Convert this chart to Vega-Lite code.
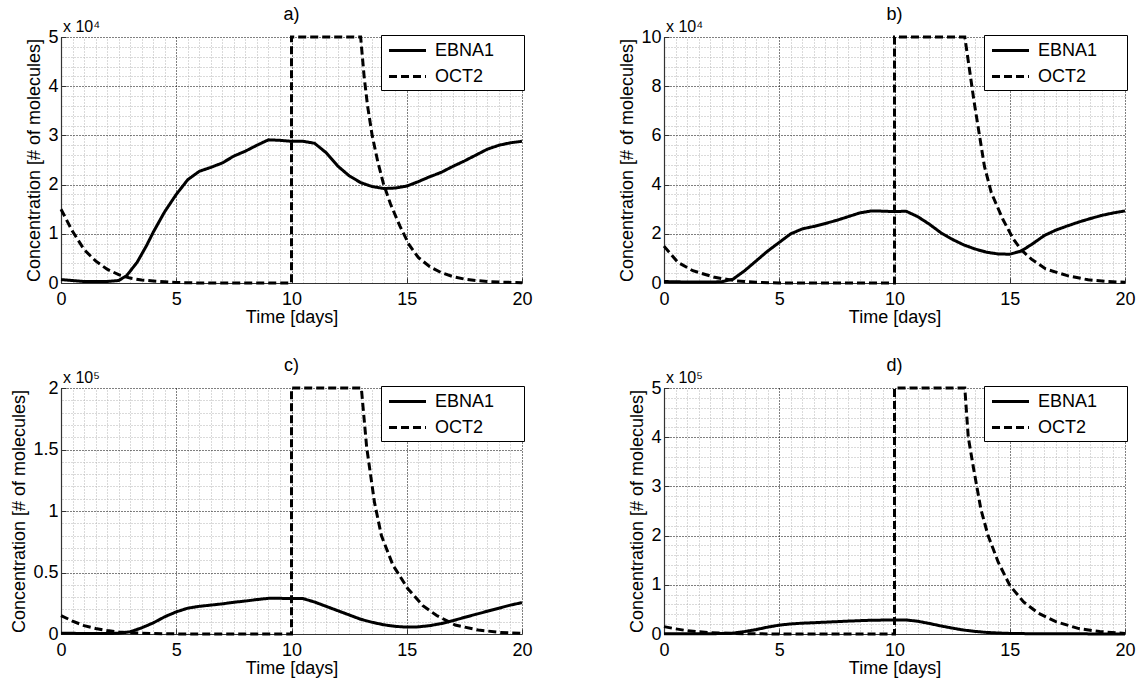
{
  "$schema": "https://vega.github.io/schema/vega-lite/v6.json",
  "background": "white",
  "padding": {"left": 10, "top": 6, "right": 5, "bottom": 5},
  "config": {
    "font": "Liberation Sans",
    "view": {"stroke": null},
    "axis": {"labelFontSize": 18, "titleFontSize": 18, "titleFontWeight": "normal", "labelColor": "black", "titleColor": "black", "domainColor": "#333333", "domainWidth": 1.2, "tickColor": "#333333", "tickSize": -5, "gridWidth": 1, "labelFlush": false, "labelOverlap": false},
    "axisX": {"labelPadding": 12, "titlePadding": 0},
    "axisY": {"labelPadding": 8, "titlePadding": 4},
    "legend": {"labelFontSize": 18, "labelColor": "black", "symbolType": "M-1.85,0H1.85", "symbolStrokeWidth": 3, "symbolSize": 400, "symbolStrokeColor": "black", "symbolFillColor": "transparent", "symbolOffset": 11, "strokeColor": "black", "fillColor": "white", "padding": 4, "offset": -2, "labelOffset": 16, "rowPadding": 5, "cornerRadius": 0, "labelLimit": 0},
    "title": {"fontSize": 18, "fontWeight": "normal", "color": "black", "offset": -5}
  },
  "datasets": {
    "d": [
      {"p":"a","s":"EBNA1","t":0,"v":700},{"p":"a","s":"EBNA1","t":0.5,"v":500},{"p":"a","s":"EBNA1","t":1,"v":300},{"p":"a","s":"EBNA1","t":1.5,"v":300},{"p":"a","s":"EBNA1","t":2,"v":300},{"p":"a","s":"EBNA1","t":2.5,"v":500},{"p":"a","s":"EBNA1","t":2.85,"v":1500},{"p":"a","s":"EBNA1","t":3.3,"v":4200},{"p":"a","s":"EBNA1","t":3.7,"v":7500},{"p":"a","s":"EBNA1","t":4,"v":10300},{"p":"a","s":"EBNA1","t":4.5,"v":14500},{"p":"a","s":"EBNA1","t":5,"v":18000},{"p":"a","s":"EBNA1","t":5.5,"v":21000},{"p":"a","s":"EBNA1","t":6,"v":22700},{"p":"a","s":"EBNA1","t":6.5,"v":23500},{"p":"a","s":"EBNA1","t":7,"v":24400},{"p":"a","s":"EBNA1","t":7.5,"v":25800},{"p":"a","s":"EBNA1","t":8,"v":26800},{"p":"a","s":"EBNA1","t":8.5,"v":28000},{"p":"a","s":"EBNA1","t":9,"v":29100},{"p":"a","s":"EBNA1","t":9.5,"v":29000},{"p":"a","s":"EBNA1","t":10,"v":28800},{"p":"a","s":"EBNA1","t":10.5,"v":28800},{"p":"a","s":"EBNA1","t":11,"v":28400},{"p":"a","s":"EBNA1","t":11.5,"v":26500},{"p":"a","s":"EBNA1","t":12,"v":23800},{"p":"a","s":"EBNA1","t":12.5,"v":21800},{"p":"a","s":"EBNA1","t":13,"v":20400},{"p":"a","s":"EBNA1","t":13.5,"v":19600},{"p":"a","s":"EBNA1","t":14,"v":19200},{"p":"a","s":"EBNA1","t":14.5,"v":19300},{"p":"a","s":"EBNA1","t":15,"v":19700},{"p":"a","s":"EBNA1","t":15.5,"v":20600},{"p":"a","s":"EBNA1","t":16,"v":21600},{"p":"a","s":"EBNA1","t":16.5,"v":22500},{"p":"a","s":"EBNA1","t":17,"v":23700},{"p":"a","s":"EBNA1","t":17.5,"v":24800},{"p":"a","s":"EBNA1","t":18,"v":26000},{"p":"a","s":"EBNA1","t":18.5,"v":27200},{"p":"a","s":"EBNA1","t":19,"v":28000},{"p":"a","s":"EBNA1","t":19.5,"v":28500},{"p":"a","s":"EBNA1","t":20,"v":28800},
      {"p":"a","s":"OCT2","t":0,"v":15000},{"p":"a","s":"OCT2","t":0.5,"v":10500},{"p":"a","s":"OCT2","t":1,"v":6800},{"p":"a","s":"OCT2","t":1.5,"v":4500},{"p":"a","s":"OCT2","t":2,"v":2800},{"p":"a","s":"OCT2","t":2.5,"v":1700},{"p":"a","s":"OCT2","t":3,"v":1000},{"p":"a","s":"OCT2","t":3.5,"v":600},{"p":"a","s":"OCT2","t":4,"v":400},{"p":"a","s":"OCT2","t":5,"v":100},{"p":"a","s":"OCT2","t":6,"v":0},{"p":"a","s":"OCT2","t":10,"v":0},{"p":"a","s":"OCT2","t":10,"v":50000},{"p":"a","s":"OCT2","t":13,"v":50000},{"p":"a","s":"OCT2","t":13.15,"v":42000},{"p":"a","s":"OCT2","t":13.3,"v":36000},{"p":"a","s":"OCT2","t":13.5,"v":30000},{"p":"a","s":"OCT2","t":13.75,"v":24500},{"p":"a","s":"OCT2","t":14,"v":20000},{"p":"a","s":"OCT2","t":14.3,"v":16000},{"p":"a","s":"OCT2","t":14.7,"v":11600},{"p":"a","s":"OCT2","t":15.1,"v":7800},{"p":"a","s":"OCT2","t":15.5,"v":5200},{"p":"a","s":"OCT2","t":16,"v":3300},{"p":"a","s":"OCT2","t":16.5,"v":2100},{"p":"a","s":"OCT2","t":17,"v":1300},{"p":"a","s":"OCT2","t":17.5,"v":800},{"p":"a","s":"OCT2","t":18,"v":500},{"p":"a","s":"OCT2","t":18.5,"v":300},{"p":"a","s":"OCT2","t":19,"v":200},{"p":"a","s":"OCT2","t":20,"v":50},
      {"p":"b","s":"EBNA1","t":0,"v":600},{"p":"b","s":"EBNA1","t":1,"v":400},{"p":"b","s":"EBNA1","t":2,"v":400},{"p":"b","s":"EBNA1","t":2.5,"v":500},{"p":"b","s":"EBNA1","t":3,"v":1600},{"p":"b","s":"EBNA1","t":3.5,"v":5000},{"p":"b","s":"EBNA1","t":4,"v":9000},{"p":"b","s":"EBNA1","t":4.5,"v":13000},{"p":"b","s":"EBNA1","t":5,"v":16500},{"p":"b","s":"EBNA1","t":5.5,"v":20000},{"p":"b","s":"EBNA1","t":6,"v":22000},{"p":"b","s":"EBNA1","t":6.5,"v":23000},{"p":"b","s":"EBNA1","t":7,"v":24200},{"p":"b","s":"EBNA1","t":7.5,"v":25500},{"p":"b","s":"EBNA1","t":8,"v":27000},{"p":"b","s":"EBNA1","t":8.5,"v":28500},{"p":"b","s":"EBNA1","t":9,"v":29300},{"p":"b","s":"EBNA1","t":9.5,"v":29200},{"p":"b","s":"EBNA1","t":10,"v":29000},{"p":"b","s":"EBNA1","t":10.5,"v":29200},{"p":"b","s":"EBNA1","t":11,"v":27000},{"p":"b","s":"EBNA1","t":11.5,"v":24000},{"p":"b","s":"EBNA1","t":12,"v":20500},{"p":"b","s":"EBNA1","t":12.5,"v":17800},{"p":"b","s":"EBNA1","t":13,"v":15500},{"p":"b","s":"EBNA1","t":13.5,"v":13800},{"p":"b","s":"EBNA1","t":14,"v":12500},{"p":"b","s":"EBNA1","t":14.5,"v":11800},{"p":"b","s":"EBNA1","t":15,"v":11700},{"p":"b","s":"EBNA1","t":15.5,"v":13000},{"p":"b","s":"EBNA1","t":16,"v":16000},{"p":"b","s":"EBNA1","t":16.5,"v":19300},{"p":"b","s":"EBNA1","t":17,"v":21500},{"p":"b","s":"EBNA1","t":17.5,"v":23200},{"p":"b","s":"EBNA1","t":18,"v":24800},{"p":"b","s":"EBNA1","t":18.5,"v":26200},{"p":"b","s":"EBNA1","t":19,"v":27500},{"p":"b","s":"EBNA1","t":19.5,"v":28500},{"p":"b","s":"EBNA1","t":20,"v":29300},
      {"p":"b","s":"OCT2","t":0,"v":15000},{"p":"b","s":"OCT2","t":0.6,"v":8400},{"p":"b","s":"OCT2","t":1.25,"v":5000},{"p":"b","s":"OCT2","t":2.2,"v":2300},{"p":"b","s":"OCT2","t":3.1,"v":900},{"p":"b","s":"OCT2","t":4,"v":300},{"p":"b","s":"OCT2","t":5,"v":0},{"p":"b","s":"OCT2","t":10,"v":0},{"p":"b","s":"OCT2","t":10,"v":100000},{"p":"b","s":"OCT2","t":13.05,"v":100000},{"p":"b","s":"OCT2","t":13.25,"v":87000},{"p":"b","s":"OCT2","t":13.44,"v":74500},{"p":"b","s":"OCT2","t":13.67,"v":61000},{"p":"b","s":"OCT2","t":13.9,"v":47500},{"p":"b","s":"OCT2","t":14.2,"v":36700},{"p":"b","s":"OCT2","t":14.7,"v":25900},{"p":"b","s":"OCT2","t":15.16,"v":17800},{"p":"b","s":"OCT2","t":15.5,"v":13500},{"p":"b","s":"OCT2","t":15.94,"v":9700},{"p":"b","s":"OCT2","t":16.56,"v":5700},{"p":"b","s":"OCT2","t":17.5,"v":3000},{"p":"b","s":"OCT2","t":18.4,"v":1300},{"p":"b","s":"OCT2","t":19.2,"v":600},{"p":"b","s":"OCT2","t":20,"v":300},
      {"p":"c","s":"EBNA1","t":0,"v":700},{"p":"c","s":"EBNA1","t":1,"v":400},{"p":"c","s":"EBNA1","t":2,"v":400},{"p":"c","s":"EBNA1","t":2.5,"v":600},{"p":"c","s":"EBNA1","t":3,"v":1800},{"p":"c","s":"EBNA1","t":3.5,"v":5000},{"p":"c","s":"EBNA1","t":4,"v":9000},{"p":"c","s":"EBNA1","t":4.5,"v":14000},{"p":"c","s":"EBNA1","t":5,"v":18000},{"p":"c","s":"EBNA1","t":5.5,"v":21000},{"p":"c","s":"EBNA1","t":6,"v":22500},{"p":"c","s":"EBNA1","t":6.5,"v":23500},{"p":"c","s":"EBNA1","t":7,"v":24500},{"p":"c","s":"EBNA1","t":7.5,"v":25800},{"p":"c","s":"EBNA1","t":8,"v":26800},{"p":"c","s":"EBNA1","t":8.5,"v":28000},{"p":"c","s":"EBNA1","t":9,"v":29000},{"p":"c","s":"EBNA1","t":9.5,"v":29000},{"p":"c","s":"EBNA1","t":10,"v":28800},{"p":"c","s":"EBNA1","t":10.5,"v":28800},{"p":"c","s":"EBNA1","t":11,"v":26000},{"p":"c","s":"EBNA1","t":11.5,"v":22500},{"p":"c","s":"EBNA1","t":12,"v":19000},{"p":"c","s":"EBNA1","t":12.5,"v":15500},{"p":"c","s":"EBNA1","t":13,"v":12000},{"p":"c","s":"EBNA1","t":13.5,"v":9500},{"p":"c","s":"EBNA1","t":14,"v":7500},{"p":"c","s":"EBNA1","t":14.5,"v":6200},{"p":"c","s":"EBNA1","t":15,"v":5600},{"p":"c","s":"EBNA1","t":15.5,"v":5800},{"p":"c","s":"EBNA1","t":16,"v":6800},{"p":"c","s":"EBNA1","t":16.5,"v":8500},{"p":"c","s":"EBNA1","t":17,"v":10800},{"p":"c","s":"EBNA1","t":17.5,"v":13500},{"p":"c","s":"EBNA1","t":18,"v":16000},{"p":"c","s":"EBNA1","t":18.5,"v":18500},{"p":"c","s":"EBNA1","t":19,"v":21000},{"p":"c","s":"EBNA1","t":19.5,"v":23500},{"p":"c","s":"EBNA1","t":20,"v":25500},
      {"p":"c","s":"OCT2","t":0,"v":15000},{"p":"c","s":"OCT2","t":0.5,"v":10500},{"p":"c","s":"OCT2","t":1,"v":6800},{"p":"c","s":"OCT2","t":1.5,"v":4500},{"p":"c","s":"OCT2","t":2,"v":2800},{"p":"c","s":"OCT2","t":2.5,"v":1700},{"p":"c","s":"OCT2","t":3,"v":1000},{"p":"c","s":"OCT2","t":4,"v":400},{"p":"c","s":"OCT2","t":5,"v":100},{"p":"c","s":"OCT2","t":6,"v":0},{"p":"c","s":"OCT2","t":10,"v":0},{"p":"c","s":"OCT2","t":10,"v":200000},{"p":"c","s":"OCT2","t":13.03,"v":200000},{"p":"c","s":"OCT2","t":13.26,"v":152000},{"p":"c","s":"OCT2","t":13.6,"v":107000},{"p":"c","s":"OCT2","t":13.9,"v":80000},{"p":"c","s":"OCT2","t":14.4,"v":56000},{"p":"c","s":"OCT2","t":15.04,"v":37000},{"p":"c","s":"OCT2","t":15.7,"v":23000},{"p":"c","s":"OCT2","t":16.3,"v":15000},{"p":"c","s":"OCT2","t":17.1,"v":7300},{"p":"c","s":"OCT2","t":18.1,"v":3200},{"p":"c","s":"OCT2","t":19.06,"v":1300},{"p":"c","s":"OCT2","t":20,"v":500},
      {"p":"d","s":"EBNA1","t":0,"v":700},{"p":"d","s":"EBNA1","t":2,"v":400},{"p":"d","s":"EBNA1","t":3,"v":1800},{"p":"d","s":"EBNA1","t":3.5,"v":5000},{"p":"d","s":"EBNA1","t":4,"v":9000},{"p":"d","s":"EBNA1","t":4.5,"v":14000},{"p":"d","s":"EBNA1","t":5,"v":18000},{"p":"d","s":"EBNA1","t":5.5,"v":20500},{"p":"d","s":"EBNA1","t":6,"v":22000},{"p":"d","s":"EBNA1","t":7,"v":24000},{"p":"d","s":"EBNA1","t":8,"v":26200},{"p":"d","s":"EBNA1","t":9,"v":28000},{"p":"d","s":"EBNA1","t":10,"v":28500},{"p":"d","s":"EBNA1","t":10.5,"v":28500},{"p":"d","s":"EBNA1","t":11,"v":26000},{"p":"d","s":"EBNA1","t":11.5,"v":21500},{"p":"d","s":"EBNA1","t":12,"v":16500},{"p":"d","s":"EBNA1","t":12.5,"v":12000},{"p":"d","s":"EBNA1","t":13,"v":8000},{"p":"d","s":"EBNA1","t":13.5,"v":5200},{"p":"d","s":"EBNA1","t":14,"v":3200},{"p":"d","s":"EBNA1","t":14.5,"v":2000},{"p":"d","s":"EBNA1","t":15,"v":1200},{"p":"d","s":"EBNA1","t":16,"v":500},{"p":"d","s":"EBNA1","t":17,"v":300},{"p":"d","s":"EBNA1","t":20,"v":200},
      {"p":"d","s":"OCT2","t":0,"v":15000},{"p":"d","s":"OCT2","t":0.5,"v":10500},{"p":"d","s":"OCT2","t":1,"v":6800},{"p":"d","s":"OCT2","t":1.5,"v":4500},{"p":"d","s":"OCT2","t":2,"v":2800},{"p":"d","s":"OCT2","t":2.5,"v":1700},{"p":"d","s":"OCT2","t":3,"v":1000},{"p":"d","s":"OCT2","t":4,"v":400},{"p":"d","s":"OCT2","t":5,"v":100},{"p":"d","s":"OCT2","t":6,"v":0},{"p":"d","s":"OCT2","t":10,"v":0},{"p":"d","s":"OCT2","t":10,"v":500000},{"p":"d","s":"OCT2","t":13.05,"v":500000},{"p":"d","s":"OCT2","t":13.2,"v":400000},{"p":"d","s":"OCT2","t":13.44,"v":334000},{"p":"d","s":"OCT2","t":13.75,"v":253000},{"p":"d","s":"OCT2","t":14.06,"v":200000},{"p":"d","s":"OCT2","t":14.5,"v":146000},{"p":"d","s":"OCT2","t":15,"v":99000},{"p":"d","s":"OCT2","t":15.6,"v":65000},{"p":"d","s":"OCT2","t":16.25,"v":42000},{"p":"d","s":"OCT2","t":17,"v":25000},{"p":"d","s":"OCT2","t":18,"v":11000},{"p":"d","s":"OCT2","t":18.9,"v":5000},{"p":"d","s":"OCT2","t":20,"v":1000}
    ]
  },
  "columns": 2,
  "spacing": {"row": 105, "column": 142},
  "bounds": "flush",
  "resolve": {"scale": {"strokeDash": "independent"}, "legend": {"strokeDash": "independent"}},
  "concat": [
    {
      "title": {"text": "a)"},
      "width": 461, "height": 246,
      "layer": [
        {
          "data": {"values": [{"lab": "x 10⁴"}]},
          "mark": {"type": "text", "align": "left", "baseline": "alphabetic", "dx": 2, "dy": -5, "fontSize": 16, "color": "black"},
          "encoding": {
            "text": {"field": "lab"},
            "x": {"datum": 0, "type": "quantitative", "scale": {"domain": [0, 20], "nice": false},
              "axis": {"orient": "top", "values": [0.5,1,1.5,2,2.5,3,3.5,4,4.5,5.5,6,6.5,7,7.5,8,8.5,9,9.5,10.5,11,11.5,12,12.5,13,13.5,14,14.5,15.5,16,16.5,17,17.5,18,18.5,19,19.5], "grid": true, "gridColor": "#b4b4b4", "gridDash": [1, 2], "labels": false, "ticks": false, "domain": false, "title": null}},
            "y": {"datum": 50000, "type": "quantitative", "scale": {"domain": [0, 50000], "nice": false},
              "axis": {"orient": "right", "values": [2000,4000,6000,8000,12000,14000,16000,18000,22000,24000,26000,28000,32000,34000,36000,38000,42000,44000,46000,48000], "grid": true, "gridColor": "#b4b4b4", "gridDash": [1, 2], "labels": false, "ticks": false, "domain": false, "title": null}}
          }
        },
        {
          "data": {"name": "d"},
          "transform": [{"filter": "datum.p == 'a'"}],
          "mark": {"type": "line", "color": "black", "strokeWidth": 3},
          "encoding": {
            "x": {"field": "t", "type": "quantitative", "scale": {"domain": [0, 20], "nice": false},
              "axis": {"orient": "bottom", "values": [0, 5, 10, 15, 20], "grid": true, "gridColor": "black", "gridDash": [1, 2], "title": "Time [days]"}},
            "y": {"field": "v", "type": "quantitative", "scale": {"domain": [0, 50000], "nice": false},
              "axis": {"orient": "left", "values": [0, 10000, 20000, 30000, 40000, 50000], "labelExpr": "datum.value / 10000", "grid": true, "gridColor": "black", "gridDash": [1, 2], "title": "Concentration [# of molecules]"}},
            "strokeDash": {"field": "s", "type": "nominal", "scale": {"domain": ["EBNA1", "OCT2"], "range": [[1, 0], [8, 4]]}, "legend": {"orient": "top-right", "title": null, "labelExpr": "datum.label + '\u00a0\u00a0\u00a0\u00a0\u00a0\u200b'"}},
            "order": {"value": null}
          }
        }
      ],
      "resolve": {"axis": {"x": "independent", "y": "independent"}}
    },
    {
      "title": {"text": "b)"},
      "width": 461, "height": 246,
      "layer": [
        {
          "data": {"values": [{"lab": "x 10⁴"}]},
          "mark": {"type": "text", "align": "left", "baseline": "alphabetic", "dx": 2, "dy": -5, "fontSize": 16, "color": "black"},
          "encoding": {
            "text": {"field": "lab"},
            "x": {"datum": 0, "type": "quantitative", "scale": {"domain": [0, 20], "nice": false},
              "axis": {"orient": "top", "values": [0.5,1,1.5,2,2.5,3,3.5,4,4.5,5.5,6,6.5,7,7.5,8,8.5,9,9.5,10.5,11,11.5,12,12.5,13,13.5,14,14.5,15.5,16,16.5,17,17.5,18,18.5,19,19.5], "grid": true, "gridColor": "#b4b4b4", "gridDash": [1, 2], "labels": false, "ticks": false, "domain": false, "title": null}},
            "y": {"datum": 100000, "type": "quantitative", "scale": {"domain": [0, 100000], "nice": false},
              "axis": {"orient": "right", "values": [4000,8000,12000,16000,24000,28000,32000,36000,44000,48000,52000,56000,64000,68000,72000,76000,84000,88000,92000,96000], "grid": true, "gridColor": "#b4b4b4", "gridDash": [1, 2], "labels": false, "ticks": false, "domain": false, "title": null}}
          }
        },
        {
          "data": {"name": "d"},
          "transform": [{"filter": "datum.p == 'b'"}],
          "mark": {"type": "line", "color": "black", "strokeWidth": 3},
          "encoding": {
            "x": {"field": "t", "type": "quantitative", "scale": {"domain": [0, 20], "nice": false},
              "axis": {"orient": "bottom", "values": [0, 5, 10, 15, 20], "grid": true, "gridColor": "black", "gridDash": [1, 2], "title": "Time [days]"}},
            "y": {"field": "v", "type": "quantitative", "scale": {"domain": [0, 100000], "nice": false},
              "axis": {"orient": "left", "values": [0, 20000, 40000, 60000, 80000, 100000], "labelExpr": "datum.value / 10000", "grid": true, "gridColor": "black", "gridDash": [1, 2], "title": "Concentration [# of molecules]"}},
            "strokeDash": {"field": "s", "type": "nominal", "scale": {"domain": ["EBNA1", "OCT2"], "range": [[1, 0], [8, 4]]}, "legend": {"orient": "top-right", "title": null, "labelExpr": "datum.label + '\u00a0\u00a0\u00a0\u00a0\u00a0\u200b'"}},
            "order": {"value": null}
          }
        }
      ],
      "resolve": {"axis": {"x": "independent", "y": "independent"}}
    },
    {
      "title": {"text": "c)"},
      "width": 461, "height": 246,
      "layer": [
        {
          "data": {"values": [{"lab": "x 10⁵"}]},
          "mark": {"type": "text", "align": "left", "baseline": "alphabetic", "dx": 2, "dy": -5, "fontSize": 16, "color": "black"},
          "encoding": {
            "text": {"field": "lab"},
            "x": {"datum": 0, "type": "quantitative", "scale": {"domain": [0, 20], "nice": false},
              "axis": {"orient": "top", "values": [0.5,1,1.5,2,2.5,3,3.5,4,4.5,5.5,6,6.5,7,7.5,8,8.5,9,9.5,10.5,11,11.5,12,12.5,13,13.5,14,14.5,15.5,16,16.5,17,17.5,18,18.5,19,19.5], "grid": true, "gridColor": "#b4b4b4", "gridDash": [1, 2], "labels": false, "ticks": false, "domain": false, "title": null}},
            "y": {"datum": 200000, "type": "quantitative", "scale": {"domain": [0, 200000], "nice": false},
              "axis": {"orient": "right", "values": [10000,20000,30000,40000,60000,70000,80000,90000,110000,120000,130000,140000,160000,170000,180000,190000], "grid": true, "gridColor": "#b4b4b4", "gridDash": [1, 2], "labels": false, "ticks": false, "domain": false, "title": null}}
          }
        },
        {
          "data": {"name": "d"},
          "transform": [{"filter": "datum.p == 'c'"}],
          "mark": {"type": "line", "color": "black", "strokeWidth": 3},
          "encoding": {
            "x": {"field": "t", "type": "quantitative", "scale": {"domain": [0, 20], "nice": false},
              "axis": {"orient": "bottom", "values": [0, 5, 10, 15, 20], "grid": true, "gridColor": "black", "gridDash": [1, 2], "title": "Time [days]"}},
            "y": {"field": "v", "type": "quantitative", "scale": {"domain": [0, 200000], "nice": false},
              "axis": {"orient": "left", "values": [0, 50000, 100000, 150000, 200000], "labelExpr": "datum.value / 100000", "grid": true, "gridColor": "black", "gridDash": [1, 2], "title": "Concentration [# of molecules]"}},
            "strokeDash": {"field": "s", "type": "nominal", "scale": {"domain": ["EBNA1", "OCT2"], "range": [[1, 0], [8, 4]]}, "legend": {"orient": "top-right", "title": null, "labelExpr": "datum.label + '\u00a0\u00a0\u00a0\u00a0\u00a0\u200b'"}},
            "order": {"value": null}
          }
        }
      ],
      "resolve": {"axis": {"x": "independent", "y": "independent"}}
    },
    {
      "title": {"text": "d)"},
      "width": 461, "height": 246,
      "layer": [
        {
          "data": {"values": [{"lab": "x 10⁵"}]},
          "mark": {"type": "text", "align": "left", "baseline": "alphabetic", "dx": 2, "dy": -5, "fontSize": 16, "color": "black"},
          "encoding": {
            "text": {"field": "lab"},
            "x": {"datum": 0, "type": "quantitative", "scale": {"domain": [0, 20], "nice": false},
              "axis": {"orient": "top", "values": [0.5,1,1.5,2,2.5,3,3.5,4,4.5,5.5,6,6.5,7,7.5,8,8.5,9,9.5,10.5,11,11.5,12,12.5,13,13.5,14,14.5,15.5,16,16.5,17,17.5,18,18.5,19,19.5], "grid": true, "gridColor": "#b4b4b4", "gridDash": [1, 2], "labels": false, "ticks": false, "domain": false, "title": null}},
            "y": {"datum": 500000, "type": "quantitative", "scale": {"domain": [0, 500000], "nice": false},
              "axis": {"orient": "right", "values": [20000,40000,60000,80000,120000,140000,160000,180000,220000,240000,260000,280000,320000,340000,360000,380000,420000,440000,460000,480000], "grid": true, "gridColor": "#b4b4b4", "gridDash": [1, 2], "labels": false, "ticks": false, "domain": false, "title": null}}
          }
        },
        {
          "data": {"name": "d"},
          "transform": [{"filter": "datum.p == 'd'"}],
          "mark": {"type": "line", "color": "black", "strokeWidth": 3},
          "encoding": {
            "x": {"field": "t", "type": "quantitative", "scale": {"domain": [0, 20], "nice": false},
              "axis": {"orient": "bottom", "values": [0, 5, 10, 15, 20], "grid": true, "gridColor": "black", "gridDash": [1, 2], "title": "Time [days]"}},
            "y": {"field": "v", "type": "quantitative", "scale": {"domain": [0, 500000], "nice": false},
              "axis": {"orient": "left", "values": [0, 100000, 200000, 300000, 400000, 500000], "labelExpr": "datum.value / 100000", "grid": true, "gridColor": "black", "gridDash": [1, 2], "title": "Concentration [# of molecules]"}},
            "strokeDash": {"field": "s", "type": "nominal", "scale": {"domain": ["EBNA1", "OCT2"], "range": [[1, 0], [8, 4]]}, "legend": {"orient": "top-right", "title": null, "labelExpr": "datum.label + '\u00a0\u00a0\u00a0\u00a0\u00a0\u200b'"}},
            "order": {"value": null}
          }
        }
      ],
      "resolve": {"axis": {"x": "independent", "y": "independent"}}
    }
  ]
}
